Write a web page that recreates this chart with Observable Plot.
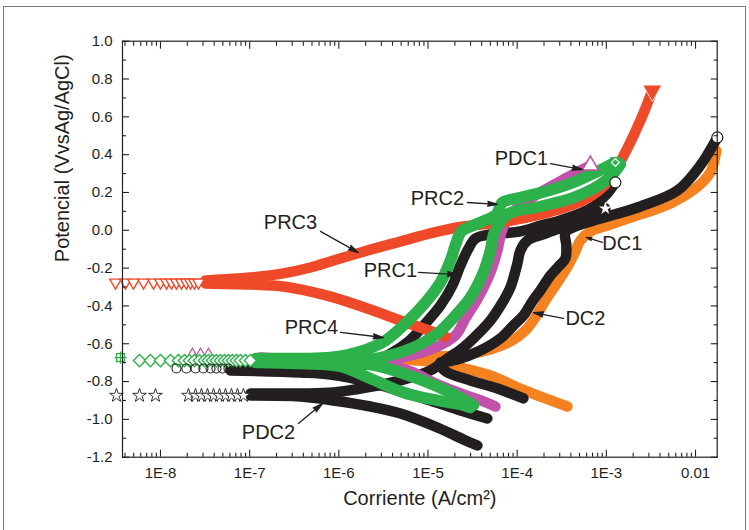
<!DOCTYPE html>
<html><head><meta charset="utf-8">
<script src="https://cdn.jsdelivr.net/npm/d3@7"></script>
<script src="https://cdn.jsdelivr.net/npm/@observablehq/plot@0.6"></script>
<style>
body{margin:0;background:#fff;}
#wrap{position:relative;width:749px;height:530px;overflow:hidden;background:#fff;}
#border{position:absolute;left:3px;top:6px;width:743px;height:600px;border:1px solid #7a7a7a;box-sizing:border-box;}
#chart{position:absolute;left:0;top:0;}
</style></head><body>
<div id="wrap"><div id="border"></div><div id="chart"></div></div>
<script>
// ---- axis ticks ----
const yMajor = [-1.2,-1.0,-0.8,-0.6,-0.4,-0.2,0.0,0.2,0.4,0.6,0.8,1.0];
const yMinor = [-1.1,-0.9,-0.7,-0.5,-0.3,-0.1,0.1,0.3,0.5,0.7,0.9];
const xMajor = [1e-8,1e-7,1e-6,1e-5,1e-4,1e-3,1e-2];
const xMajorLabels = ["1E-8","1E-7","1E-6","1E-5","1E-4","1E-3","0.01"];
const xDomain = [3.75e-9, 0.0175];
const yDomain = [-1.2, 1.0];

// ---- curves: [current A/cm2, potential V] ----
const prc3Cathodic = [[3.19e-8,-0.281],[1.021e-7,-0.287],[2.39e-7,-0.297],[3.71e-7,-0.313],[8.70e-7,-0.355],[2.09e-6,-0.414],[4.91e-6,-0.477],[8.22e-6,-0.514],[1.567e-5,-0.562]];
const prc3Anodic = [[3.19e-8,-0.265],[1.021e-7,-0.250],[2.39e-7,-0.228],[4.80e-7,-0.197],[8.70e-7,-0.160],[2.09e-6,-0.107],[4.91e-6,-0.059],[1.149e-5,-0.012],[2.49e-5,0.020],[6.48e-5,0.041],[1.82e-4,0.084],[3.95e-4,0.131],[6.62e-4,0.179],[9.74e-4,0.242],[1.262e-3,0.316],[1.719e-3,0.433],[2.41e-3,0.581],[3.28e-3,0.739]];

const prc4Cathodic = [[1.161e-7,-0.689],[3.71e-7,-0.694],[1.042e-6,-0.699],[2.26e-6,-0.710],[5.30e-6,-0.757],[1.275e-5,-0.826],[2.63e-5,-0.900],[3.23e-5,-0.926]];
const prc4Anodic = [[1.161e-7,-0.678],[3.71e-7,-0.678],[8.05e-7,-0.673],[1.747e-6,-0.641],[3.33e-6,-0.583],[5.58e-6,-0.493],[9.35e-6,-0.382],[1.377e-5,-0.276],[1.783e-5,-0.160],[2.08e-5,-0.064],[2.37e-5,-0.006],[3.87e-5,0.041],[5.85e-5,0.084],[6.83e-5,0.147],[1.086e-4,0.173],[2.07e-4,0.205],[4.27e-4,0.253],[7.93e-4,0.311],[1.262e-3,0.359]];

const prc2Cathodic = [[1.161e-7,-0.699],[3.71e-7,-0.705],[1.042e-6,-0.720],[2.26e-6,-0.784],[5.30e-6,-0.858],[1.275e-5,-0.900],[2.31e-5,-0.921],[2.99e-5,-0.937]];
const prc2Anodic = [[1.161e-7,-0.689],[3.71e-7,-0.694],[1.042e-6,-0.699],[2.93e-6,-0.673],[6.86e-6,-0.620],[1.275e-5,-0.546],[2.03e-5,-0.451],[2.99e-5,-0.355],[4.18e-5,-0.223],[5.01e-5,-0.107],[5.55e-5,-0.012],[7.77e-5,0.084],[1.820e-4,0.126],[4.27e-4,0.173],[8.57e-4,0.242],[1.168e-3,0.295],[1.435e-3,0.348]];

const pdc1Cathodic = [[1.322e-7,-0.689],[8.05e-7,-0.699],[4.09e-6,-0.720],[6.86e-6,-0.752],[1.149e-5,-0.805],[2.49e-5,-0.868],[4.18e-5,-0.905],[5.70e-5,-0.932]];
const pdc1Anodic = [[1.322e-7,-0.673],[8.05e-7,-0.689],[4.91e-6,-0.673],[1.211e-5,-0.620],[2.03e-5,-0.556],[2.63e-5,-0.466],[3.67e-5,-0.355],[5.01e-5,-0.223],[6.00e-5,-0.107],[6.65e-5,-0.012],[7.77e-5,0.062],[1.086e-4,0.131],[1.967e-4,0.210],[3.47e-4,0.274],[6.62e-4,0.343]];

const prc1Cathodic = [[6.09e-8,-0.741],[3.71e-7,-0.752],[8.05e-7,-0.763],[2.26e-6,-0.805],[4.91e-6,-0.852],[1.064e-5,-0.900],[2.31e-5,-0.953],[4.63e-5,-0.995]];
const prc1Anodic = [[6.09e-8,-0.731],[3.71e-7,-0.736],[8.05e-7,-0.741],[1.747e-6,-0.720],[3.33e-6,-0.667],[5.88e-6,-0.593],[9.35e-6,-0.493],[1.377e-5,-0.398],[1.877e-5,-0.292],[2.31e-5,-0.186],[2.77e-5,-0.107],[3.40e-5,-0.043],[5.01e-5,-0.022],[1.086e-4,-0.006],[1.820e-4,0.025],[3.05e-4,0.052],[6.62e-4,0.115],[9.74e-4,0.184],[1.262e-3,0.253]];

const pdc2Cathodic = [[1.021e-7,-0.874],[3.71e-7,-0.879],[8.70e-7,-0.900],[2.26e-6,-0.932],[4.91e-6,-0.969],[1.275e-5,-1.043],[2.49e-5,-1.106],[3.58e-5,-1.138]];
const pdc2Anodic = [[1.021e-7,-0.863],[3.71e-7,-0.863],[8.70e-7,-0.858],[2.09e-6,-0.831],[4.91e-6,-0.794],[1.064e-5,-0.741],[1.650e-5,-0.678],[2.49e-5,-0.620],[3.67e-5,-0.546],[5.01e-5,-0.477],[6.83e-5,-0.382],[8.39e-5,-0.302],[1.005e-4,-0.176],[1.086e-4,-0.107],[1.301e-4,-0.054],[2.07e-4,-0.017],[4.49e-4,0.041],[9.74e-4,0.115]];

const dc2Cathodic = [[1.377e-5,-0.720],[1.650e-5,-0.752],[2.99e-5,-0.794],[6.00e-5,-0.837],[1.174e-4,-0.889]];
const dc2Anodic = [[1.377e-5,-0.699],[2.14e-5,-0.683],[3.87e-5,-0.636],[6.48e-5,-0.572],[9.07e-5,-0.503],[1.174e-4,-0.451],[1.481e-4,-0.376],[1.820e-4,-0.318],[2.36e-4,-0.239],[2.90e-4,-0.192],[3.47e-4,-0.149],[3.56e-4,-0.080],[3.47e-4,-0.012],[4.49e-4,0.020],[8.57e-4,0.062],[2.41e-3,0.126],[6.25e-3,0.210],[1.132e-2,0.343],[1.755e-2,0.491]];

const dc1Cathodic = [[4.91e-6,-0.683],[1.064e-5,-0.694],[2.31e-5,-0.726],[5.01e-5,-0.768],[1.086e-4,-0.837],[2.07e-4,-0.889],[3.66e-4,-0.932]];
const dc1Anodic = [[4.91e-6,-0.673],[1.064e-5,-0.667],[2.31e-5,-0.662],[5.01e-5,-0.630],[8.39e-5,-0.588],[1.236e-4,-0.530],[1.600e-4,-0.461],[2.07e-4,-0.371],[2.68e-4,-0.292],[3.56e-4,-0.202],[4.38e-4,-0.123],[5.11e-4,-0.054],[6.62e-4,-0.006],[1.109e-3,0.031],[2.41e-3,0.084],[5.22e-3,0.142],[9.95e-3,0.221],[1.466e-2,0.306],[1.711e-2,0.422]];

// sparse points near the corrosion potential
const prc3TipI = [3.13e-9,4.05e-9,4.98e-9,6.45e-9,8.35e-9,1.0e-8,1.17e-8,1.33e-8,1.51e-8,1.72e-8,1.95e-8,2.17e-8,2.40e-8,2.67e-8];
const prc3TipE = -0.276;
const prc4TipI = [5.82e-9,7.72e-9,1.0e-8,1.295e-8,1.59e-8,1.86e-8,2.11e-8,2.40e-8,2.74e-8,3.11e-8,3.45e-8,3.83e-8,4.24e-8,4.71e-8,5.22e-8,5.78e-8,6.41e-8,7.11e-8,7.88e-8,8.97e-8,1.02e-7];
const prc4TipE = -0.689;
const prc2Tip = [[3.56e-9,-0.673]];
const prc1TipI = [1.51e-8,1.95e-8,2.47e-8,3.03e-8,3.64e-8,4.24e-8,4.95e-8,5.78e-8];
const prc1TipE = -0.731;
const pdc2TipI = [3.21e-9,5.82e-9,8.79e-9,2.06e-8,2.47e-8,2.88e-8,3.37e-8,3.93e-8,4.59e-8,5.36e-8,6.25e-8,7.30e-8,8.52e-8];
const pdc2TipE = -0.874;
const pdc1TipI = [2.28e-8,2.81e-8,3.45e-8];
const pdc1TipE = -0.657;

// annotations
const labelNames = ["PRC3","PRC1","PRC2","PDC1","PRC4","PDC2","DC1","DC2"];
const labelPos = [[2.87e-7,0.041],[3.79e-6,-0.213],[1.275e-5,0.168],[1.115e-4,0.380],[4.93e-7,-0.514],[1.625e-7,-1.069],[1.512e-3,-0.070],[5.82e-4,-0.466]];
const arrowFrom = [[6.22e-7,-0.006],[7.81e-6,-0.223],[2.77e-5,0.147],[2.36e-4,0.353],[1.042e-6,-0.540],[3.52e-7,-1.022],[9.02e-4,-0.064],[3.30e-4,-0.466]];
const arrowTo = [[1.658e-6,-0.118],[2.14e-5,-0.234],[6.00e-5,0.137],[5.38e-4,0.321],[3.16e-6,-0.567],[6.55e-7,-0.916],[5.97e-4,-0.038],[1.519e-4,-0.435]];

const RED="#EE4A2A", GREEN="#2DB14B", MAG="#C151AA", ORANGE="#F58220", BLACK="#231F20";

const xMinor = [];
for (let k=-9;k<=-2;k++) for (let m=2;m<=9;m++){const v=m*Math.pow(10,k); if(v>xDomain[0]&&v<xDomain[1]) xMinor.push(v);}

const band = (data, stroke, w=10.5) => Plot.line(data, {x:d=>d[0], y:d=>d[1], stroke, strokeWidth:w, curve:"catmull-rom", strokeLinecap:"round", strokeLinejoin:"round"});
const tip = (I, E, opts) => Plot.dot(I.map(v=>[v,E]), {x:d=>d[0], y:d=>d[1], ...opts});

const chart = Plot.plot({
  width: 749, height: 530,
  marginLeft: 122, marginRight: 32.3, marginTop: 40.7, marginBottom: 73.3,
  x: {type:"log", domain:xDomain},
  y: {domain:yDomain},
  style: {fontFamily:"'Liberation Sans', Arial, sans-serif", color:BLACK, background:"transparent"},
  marks: [
    band(dc1Cathodic, ORANGE), band(dc1Anodic, ORANGE),
    band(dc2Cathodic, BLACK), band(dc2Anodic, BLACK),
    band(pdc2Cathodic, BLACK), band(pdc2Anodic, BLACK),
    band(prc1Cathodic, BLACK), band(prc1Anodic, BLACK),
    band(pdc1Cathodic, MAG), band(pdc1Anodic, MAG),
    band(prc3Cathodic, RED), band(prc3Anodic, RED),
    band(prc2Cathodic, GREEN, 11.5), band(prc2Anodic, GREEN, 11.5),
    band(prc4Cathodic, GREEN, 11.5), band(prc4Anodic, GREEN, 11.5),
    // tip markers
    tip(prc3TipI, prc3TipE, {symbol:"triangle", rotate:180, r:4.3, stroke:RED, fill:"white", strokeWidth:1.4}),
    tip(pdc1TipI, pdc1TipE, {symbol:"triangle", r:4, stroke:MAG, fill:"none", strokeWidth:1.2}),
    tip(prc4TipI, prc4TipE, {symbol:"diamond2", r:5.5, stroke:GREEN, fill:"white", strokeWidth:1.4}),
    tip(prc1TipI, prc1TipE, {symbol:"circle", r:4.5, stroke:BLACK, fill:"none", strokeWidth:1.1}),
    tip(pdc2TipI, pdc2TipE, {symbol:"star", r:4.3, stroke:BLACK, fill:"white", strokeWidth:0.9}),
    Plot.dot(prc2Tip, {x:d=>d[0], y:d=>d[1], symbol:"square2", r:5, stroke:GREEN, fill:"white", strokeWidth:1.3}),
    Plot.dot(prc2Tip, {x:d=>d[0], y:d=>d[1], symbol:"plus", r:4, stroke:GREEN, strokeWidth:1.2}),
    // end markers
    Plot.dot([prc3Anodic.at(-1)], {x:d=>d[0], y:d=>d[1], symbol:"triangle", rotate:180, r:7, fill:RED, stroke:"white", strokeWidth:0.8}),
    Plot.dot([prc4Anodic.at(-1)], {x:d=>d[0], y:d=>d[1], symbol:"square", r:6, fill:GREEN}),
    Plot.dot([prc4Anodic.at(-1)], {x:d=>d[0], y:d=>d[1], symbol:"diamond2", r:3.5, stroke:"white", strokeWidth:1.2}),
    Plot.dot([pdc1Anodic.at(-1)], {x:d=>d[0], y:d=>d[1], symbol:"triangle", r:6, fill:"white", stroke:MAG, strokeWidth:1.5}),
    Plot.dot([prc1Anodic.at(-1), dc2Anodic.at(-1)], {x:d=>d[0], y:d=>d[1], r:5.5, fill:"white", stroke:BLACK, strokeWidth:1.2}),
    Plot.dot([pdc2Anodic.at(-1)], {x:d=>d[0], y:d=>d[1], symbol:"star", r:4, fill:"white"}),
    // annotations
    Plot.arrow(labelNames, {x1:(d,i)=>arrowFrom[i][0], y1:(d,i)=>arrowFrom[i][1], x2:(d,i)=>arrowTo[i][0], y2:(d,i)=>arrowTo[i][1], stroke:BLACK, strokeWidth:1.3, headLength:12, headAngle:28}),
    Plot.text(labelNames, {x:(d,i)=>labelPos[i][0], y:(d,i)=>labelPos[i][1], text:d=>d, fontSize:20, fill:BLACK}),
    // frame & axes
    Plot.frame({stroke:BLACK, strokeWidth:1.2}),
    Plot.axisY(yMajor, {anchor:"left", tickSize:0, tickPadding:10, tickFormat:d=>d.toFixed(1), fontSize:15, label:null}),
    Plot.axisY(yMajor, {anchor:"left", tickSize:-7, fill:"none", label:null, strokeWidth:1.1}),
    Plot.axisY(yMinor, {anchor:"left", tickSize:-4, fill:"none", label:null, strokeWidth:1.1}),
    Plot.axisY(yMajor, {anchor:"right", tickSize:-7, fill:"none", label:null, strokeWidth:1.1}),
    Plot.axisY(yMinor, {anchor:"right", tickSize:-4, fill:"none", label:null, strokeWidth:1.1}),
    Plot.axisX(xMajor, {anchor:"bottom", tickSize:0, tickPadding:10, tickFormat:d=>xMajorLabels[xMajor.indexOf(d)], fontSize:15, label:null}),
    Plot.axisX(xMajor, {anchor:"bottom", tickSize:-7, fill:"none", label:null, strokeWidth:1.1}),
    Plot.axisX(xMinor, {anchor:"bottom", tickSize:-4, fill:"none", label:null, strokeWidth:1.1}),
    Plot.axisX(xMajor, {anchor:"top", tickSize:-7, fill:"none", label:null, strokeWidth:1.1}),
    Plot.axisX(xMinor, {anchor:"top", tickSize:-4, fill:"none", label:null, strokeWidth:1.1}),
    Plot.text(["Potencial (VvsAg/AgCl)"], {frameAnchor:"left", text:d=>d, rotate:-90, dx:-60, dy:13, fontSize:20, fill:BLACK}),
    Plot.text(["Corriente (A/cm²)"], {frameAnchor:"bottom", text:d=>d, dy:48, fontSize:20, fill:BLACK})
  ]
});
// fill the arrowheads (the head sub-path is closed implicitly by the fill)
d3.select(chart).selectAll("g[aria-label='arrow'] path").attr("fill", BLACK);
document.getElementById("chart").append(chart);
</script>
</body></html>
